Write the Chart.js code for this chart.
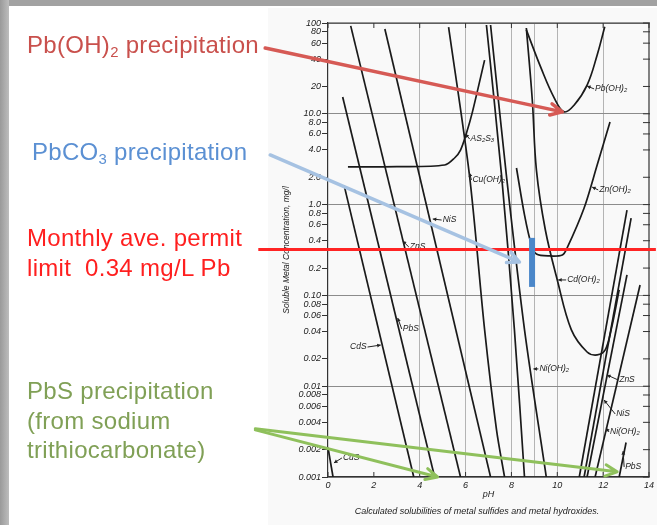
<!DOCTYPE html>
<html>
<head>
<meta charset="utf-8">
<script src="https://cdn.jsdelivr.net/npm/chart.js@4.4.1/dist/chart.umd.min.js"></script>
<style>
  html, body { margin: 0; padding: 0; }
  body { width: 657px; height: 525px; position: relative; overflow: hidden; background: #fff;
         font-family: "Liberation Sans", Arial, sans-serif; }
  #topbar { position: absolute; left: 0; top: 0; width: 657px; height: 6px; background: #a2a2a2; }
  #leftbar { position: absolute; left: 0; top: 0; width: 9px; height: 525px;
             background: linear-gradient(to right, #9a9a9a, #bdbdbd); }
  #panel { position: absolute; left: 268px; top: 8px; width: 389px; height: 517px; background: #f9f9f9; }
  #chart { position: absolute; left: 0; top: 0; }
  .note { position: absolute; left: 27px; font-size: 24px; line-height: 29.5px; white-space: nowrap; letter-spacing: 0.3px; }
  .note sub { font-size: 0.62em; vertical-align: -0.3em; line-height: 0; }
  #caption { position: absolute; left: 340px; top: 506px; width: 274px; text-align: center;
             font-style: italic; font-size: 9px; color: #222; white-space: nowrap; }
</style>
</head>
<body>
<div id="topbar"></div>
<div id="leftbar"></div>
<div id="panel"></div>
<canvas id="chart" width="657" height="525"></canvas>

<div class="note" style="top:30px; color:#c9504c;">Pb(OH)<sub>2</sub> precipitation</div>
<div class="note" style="top:137px; left:32px; color:#5b90d3;">PbCO<sub>3</sub> precipitation</div>
<div class="note" style="top:223px; color:#ff1f1f;">Monthly ave. permit<br>limit&nbsp; 0.34 mg/L Pb</div>
<div class="note" style="top:376px; color:#80a056;">PbS precipitation<br>(from sodium<br>trithiocarbonate)</div>
<div id="caption">Calculated solubilities of metal sulfides and metal hydroxides.</div>

<script>
const FONT = '"Liberation Sans", "DejaVu Sans", Arial, sans-serif';

// axis ticks
const xTickValues = [0, 1, 2, 3, 4, 5, 6, 7, 8, 9, 10, 11, 12, 13, 14];
const xTickLabels = ['0', '', '2', '', '4', '', '6', '', '8', '', '10', '', '12', '', '14'];
const xGridPH = [4, 6, 8, 9, 10, 12];
const yTickValues = [0.001, 0.002, 0.004, 0.006, 0.008, 0.01, 0.02, 0.04, 0.06, 0.08,
                     0.1, 0.2, 0.4, 0.6, 0.8, 1, 2, 4, 6, 8, 10, 20, 40, 60, 80, 100];
const yTickLabels = ['0.001', '0.002', '0.004', '0.006', '0.008', '0.01', '0.02', '0.04', '0.06', '0.08',
                     '0.10', '0.2', '0.4', '0.6', '0.8', '1.0', '2.0', '4.0', '6.0', '8.0', '10.0', '20', '40', '60', '80', '100'];

// solubility curves, [pH, mg/l]
const cuS    = [[0.0, 0.0021], [0.22, 0.001]];
const cdS    = [[0.70, 1.64], [3.74, 0.001]];
const pbS    = [[0.64, 15.3], [4.65, 0.001]];
const znS    = [[0.99, 93], [5.78, 0.001]];
const niS    = [[2.48, 86], [7.09, 0.001]];
const as2S3  = [[0.87, 2.6], [3.0, 2.62], [5.09, 2.73], [5.52, 3.26], [5.78, 3.99], [6.04, 6.15], [6.30, 10.5], [6.83, 39]];
const cuOH2  = [[5.26, 90], [6.17, 2.1], [6.83, 0.042], [7.35, 0.0033], [7.70, 0.001]];
const hydrA  = [[6.91, 95], [7.57, 2.1], [8.13, 0.042], [8.57, 0.001]];
const niOH2  = [[7.09, 95], [7.78, 2.1], [8.57, 0.042], [9.52, 0.001]];
const znOH2  = [[8.22, 2.53], [8.57, 0.77], [8.87, 0.36], [9.09, 0.286], [9.65, 0.272], [10.22, 0.279],
                [10.43, 0.333], [11.17, 0.917], [11.74, 2.73], [12.30, 8.1]];
const cdOH2  = [[8.65, 88], [8.91, 14.2], [9.09, 2.4], [9.48, 0.525], [10.0, 0.148], [10.61, 0.042],
                [11.30, 0.0238], [11.74, 0.0221], [12.09, 0.0251], [12.35, 0.042], [12.70, 0.115]];
const pbOH2  = [[8.65, 84], [9.29, 32], [9.87, 14.9], [10.30, 10.5], [10.74, 12.5], [11.30, 20.7], [11.74, 44.5], [12.07, 91]];
const znS2   = [[10.96, 0.001], [13.04, 0.87]];
const niS2   = [[11.17, 0.001], [13.22, 0.71]];
const niOH2b = [[11.30, 0.001], [13.04, 0.168]];
const rise4  = [[11.65, 0.001], [13.61, 0.13]];
const pbS2   = [[12.70, 0.001], [13.0, 0.0024]];

// slide annotations
const permitLimit = 0.32;
const permitSpan = [-3.04, 14.3];
const pbCO3Bar = [8.9, 0.124, 0.43];
const redArrow = [[-2.74, 53], [10.22, 10.5]];
const blueArrow = [[-2.52, 3.52], [8.35, 0.233]];
const greenArrow1 = [[-3.17, 0.0034], [12.61, 0.00114]];
const greenArrow2 = [[-3.17, 0.0033], [4.78, 0.001]];

// curve labels: text, text pH, text conc, arrow pH, arrow conc
const curveLabels = [
  ['Pb(OH)\u2082', 11.65, 18.8, 11.30, 20.2],
  ['AS\u2082S\u2083', 6.22, 5.27, 6.00, 6.0],
  ['Cu(OH)\u2082', 6.30, 1.87, 6.17, 2.23],
  ['Zn(OH)\u2082', 11.83, 1.45, 11.52, 1.56],
  ['NiS', 5.00, 0.676, 4.57, 0.694],
  ['ZnS', 3.57, 0.341, 3.26, 0.397],
  ['Cd(OH)\u2082', 10.43, 0.148, 10.04, 0.148],
  ['PbS', 3.26, 0.0427, 3.04, 0.0564],
  ['CdS', 0.96, 0.027, 2.30, 0.0284],
  ['CuS', 0.65, 0.00162, 0.26, 0.00143],
  ['Ni(OH)\u2082', 9.22, 0.0155, 8.96, 0.0155],
  ['ZnS', 12.70, 0.0117, 12.17, 0.0133],
  ['NiS', 12.57, 0.00494, 12.04, 0.00705],
  ['Ni(OH)\u2082', 12.30, 0.00313, 12.13, 0.00347],
  ['PbS', 12.96, 0.00129, 12.87, 0.00193]
];

const curves = [
  ['CuS', cuS, 0], ['CdS', cdS, 0], ['PbS', pbS, 0], ['ZnS', znS, 0], ['NiS', niS, 0],
  ['As2S3', as2S3, 0.3], ['Cu(OH)2', cuOH2, 0.3], ['hydroxide', hydrA, 0.3], ['Ni(OH)2', niOH2, 0.3],
  ['Zn(OH)2', znOH2, 0.3], ['Cd(OH)2', cdOH2, 0.35], ['Pb(OH)2', pbOH2, 0.4],
  ['ZnS hi', znS2, 0], ['NiS hi', niS2, 0], ['Ni(OH)2 hi', niOH2b, 0], ['rise', rise4, 0], ['PbS hi', pbS2, 0]
];

const isDecade = v => Math.abs(Math.log10(v) - Math.round(Math.log10(v))) < 1e-9;

function arrow(ctx, x1, y1, x2, y2, color, w, head) {
  const a = Math.atan2(y2 - y1, x2 - x1);
  ctx.strokeStyle = color;
  ctx.lineWidth = w;
  ctx.lineCap = 'round';
  ctx.lineJoin = 'round';
  ctx.beginPath();
  ctx.moveTo(x1, y1);
  ctx.lineTo(x2, y2);
  ctx.moveTo(x2 - head * Math.cos(a - 0.45), y2 - head * Math.sin(a - 0.45));
  ctx.lineTo(x2, y2);
  ctx.lineTo(x2 - head * Math.cos(a + 0.45), y2 - head * Math.sin(a + 0.45));
  ctx.stroke();
}

/* inward ticks on the top and right edges + frame */
const framePlugin = {
  id: 'frame',
  afterDraw(chart) {
    const {ctx, chartArea: a, scales: {x, y}} = chart;
    ctx.save();
    ctx.strokeStyle = '#333';
    ctx.lineWidth = 1.2;
    ctx.beginPath();
    ctx.moveTo(a.left, a.top);
    ctx.lineTo(a.right, a.top);
    ctx.lineTo(a.right, a.bottom);
    ctx.stroke();
    ctx.lineWidth = 1;
    ctx.beginPath();
    y.ticks.forEach(t => {
      const p = y.getPixelForValue(t.value);
      ctx.moveTo(a.right - 6, p);
      ctx.lineTo(a.right + 1, p);
    });
    x.ticks.forEach((t, i) => {
      if (!xTickLabels[i]) return;
      const p = x.getPixelForValue(t.value);
      ctx.moveTo(p, a.bottom);
      ctx.lineTo(p, a.bottom - 5);
      ctx.moveTo(p, a.top);
      ctx.lineTo(p, a.top + 5);
    });
    ctx.stroke();
    ctx.restore();
  }
};

/* curve labels and the slide's coloured markings */
const notesPlugin = {
  id: 'notes',
  afterDraw(chart) {
    const {ctx, scales: {x, y}} = chart;
    const px = v => x.getPixelForValue(v);
    const py = v => y.getPixelForValue(v);
    ctx.save();

    ctx.font = 'italic 8.5px ' + FONT;
    ctx.textBaseline = 'middle';
    ctx.fillStyle = '#222';
    ctx.strokeStyle = '#222';
    ctx.lineWidth = 1;
    curveLabels.forEach(([txt, tx, ty, ax, ay]) => {
      const X = px(tx), Y = py(ty), AX = px(ax), AY = py(ay);
      const w = ctx.measureText(txt).width;
      ctx.fillText(txt, X, Y);
      const sx = AX > X + w ? X + w + 1 : X - 1;
      const ang = Math.atan2(AY - Y, AX - sx);
      ctx.beginPath();
      ctx.moveTo(sx, Y);
      ctx.lineTo(AX, AY);
      ctx.stroke();
      ctx.beginPath();
      ctx.moveTo(AX, AY);
      ctx.lineTo(AX - 4 * Math.cos(ang - 0.5), AY - 4 * Math.sin(ang - 0.5));
      ctx.lineTo(AX - 4 * Math.cos(ang + 0.5), AY - 4 * Math.sin(ang + 0.5));
      ctx.closePath();
      ctx.fill();
    });

    // permit limit
    ctx.strokeStyle = '#ff2424';
    ctx.lineWidth = 3;
    ctx.beginPath();
    ctx.moveTo(px(permitSpan[0]), py(permitLimit));
    ctx.lineTo(px(permitSpan[1]), py(permitLimit));
    ctx.stroke();

    // arrows
    arrow(ctx, px(redArrow[0][0]), py(redArrow[0][1]), px(redArrow[1][0]), py(redArrow[1][1]), '#d65a55', 3.5, 13);
    arrow(ctx, px(blueArrow[0][0]), py(blueArrow[0][1]), px(blueArrow[1][0]), py(blueArrow[1][1]), '#a6c2e2', 3.5, 13);
    arrow(ctx, px(greenArrow1[0][0]), py(greenArrow1[0][1]), px(greenArrow1[1][0]), py(greenArrow1[1][1]), '#8fc05c', 3, 13);
    arrow(ctx, px(greenArrow2[0][0]), py(greenArrow2[0][1]), px(greenArrow2[1][0]), py(greenArrow2[1][1]), '#8fc05c', 3, 13);

    // PbCO3 range bar
    ctx.strokeStyle = '#4b87c9';
    ctx.lineWidth = 6;
    ctx.lineCap = 'butt';
    ctx.beginPath();
    ctx.moveTo(px(pbCO3Bar[0]), py(pbCO3Bar[1]));
    ctx.lineTo(px(pbCO3Bar[0]), py(pbCO3Bar[2]));
    ctx.stroke();

    ctx.restore();
  }
};

const datasets = curves.map(([name, pts, tension]) => ({
  label: name,
  data: pts.map(([ph, c]) => ({x: ph, y: c})),
  showLine: true,
  borderColor: '#1a1a1a',
  borderWidth: 1.7,
  pointRadius: 0,
  tension: tension,
  fill: false
}));

const tickFont = {family: FONT, style: 'italic', size: 9};

new Chart(document.getElementById('chart'), {
  type: 'scatter',
  data: { datasets },
  options: {
    responsive: false,
    animation: false,
    layout: { padding: { left: 278, right: 7, top: 23, bottom: 0 } },
    plugins: { legend: { display: false }, tooltip: { enabled: false } },
    scales: {
      x: {
        type: 'linear', min: 0, max: 14,
        afterFit: s => { s.height = 48; },
        afterBuildTicks: s => { s.ticks = xTickValues.map(v => ({value: v})); },
        ticks: { autoSkip: false, maxRotation: 0, padding: 3, color: '#222', font: tickFont,
                 callback: (v, i) => xTickLabels[i] },
        grid: { drawTicks: false, lineWidth: 1,
                color: ctx => (ctx.tick && xGridPH.includes(ctx.tick.value)) ? '#b4b4b4' : 'rgba(0,0,0,0)' },
        border: { display: true, color: '#333', width: 1.2 },
        title: { display: true, text: 'pH', color: '#222', font: tickFont, padding: { top: 0, bottom: 25 } }
      },
      y: {
        type: 'logarithmic', min: 0.001, max: 100,
        afterFit: s => { s.width = 50; },
        afterBuildTicks: s => { s.ticks = yTickValues.map(v => ({value: v})); },
        ticks: { autoSkip: false, padding: 1, color: '#222', font: tickFont,
                 callback: (v, i) => yTickLabels[i] },
        grid: { drawTicks: true, tickLength: 6, tickColor: '#333', lineWidth: 1,
                color: ctx => (ctx.tick && isDecade(ctx.tick.value)) ? '#8c8c8c' : 'rgba(0,0,0,0)' },
        border: { display: true, color: '#333', width: 1.2 },
        title: { display: true, text: 'Soluble Metal Concentration, mg/l', color: '#222',
                 font: {family: FONT, style: 'italic', size: 8.5}, padding: { top: 4 } }
      }
    }
  },
  plugins: [framePlugin, notesPlugin]
});
</script>
</body>
</html>
